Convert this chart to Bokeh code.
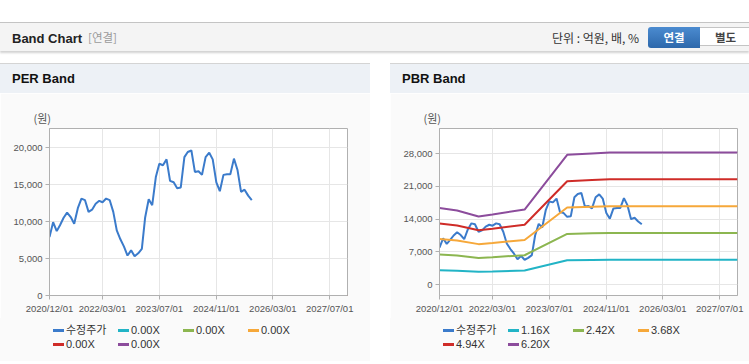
import pandas as pd
from bokeh.plotting import figure
from bokeh.models import (Div, Range1d, FixedTicker, DatetimeTickFormatter,
                          NumeralTickFormatter, Spacer)
from bokeh.layouts import column, row
from bokeh.embed import file_html
from bokeh.resources import INLINE

# ---------------- data ----------------
price_start = "2020-12-01"
price = [7900, 9900, 8700, 9500, 10500, 11200, 10600, 9700, 11800, 13100,
         12900, 11300, 11600, 12400, 12800, 12600, 13100, 12900, 11300, 8800,
         7600, 6600, 5400, 6100, 5300, 5700, 6300, 10500, 13000, 12200,
         16000, 17800, 17600, 18400, 15500, 15300, 14500, 14600, 18700, 19400,
         19600, 16700, 16800, 16300, 18700, 19300, 18400, 15300, 14100, 16300,
         16400, 16400, 18500, 17000, 14000, 14300, 13500, 12900]

price_label = "수정주가"
per_labels = ["0.00X", "0.00X", "0.00X", "0.00X", "0.00X"]
per_multiples = [0.0, 0.0, 0.0, 0.0, 0.0]
pbr_labels = ["1.16X", "2.42X", "3.68X", "4.94X", "6.20X"]
pbr_multiples = [1.16, 2.42, 3.68, 4.94, 6.20]

# per-share base values behind the bands (EPS for PER all zero, BPS for PBR)
band_dates = ["2020-12-01", "2021-05-01", "2021-11-01", "2022-03-01", "2022-12-01",
              "2023-12-01", "2024-07-01", "2024-12-01", "2027-12-01"]
eps_values = [0, 0, 0, 0, 0, 0, 0, 0, 0]
bps_values = [2645, 2560, 2350, 2420, 2590, 4480, 4530, 4560, 4560]

x_tick_dates = ["2020-12-01", "2022-03-01", "2023-07-01", "2024-11-01",
                "2026-03-01", "2027-07-01"]
x_start, x_end = "2020-12-01", "2027-12-01"
per_y_ticks = [0, 5000, 10000, 15000, 20000]
per_y_range = (0, 22570)
pbr_y_ticks = [0, 7000, 14000, 21000, 28000]
pbr_y_range = (-2356, 33420)

price_color = "#3b7bcb"
band_colors = ["#22b4c6", "#8cb650", "#f6a83a", "#cf2c28", "#8c4c9c"]

# ---------------- helpers ----------------
price_dates = pd.date_range(price_start, periods=len(price), freq="MS")
bdates = pd.to_datetime(band_dates)
tick_ms = [int(pd.Timestamp(d).value // 10**6) for d in x_tick_dates]

FONT = "Liberation Sans"
KFONT = "Noto Sans CJK KR"


def legend_div(width, labels, colors):
    html = (f'<div style="position:relative;width:{width}px;height:43px;'
            f'background:#fafafa;font-family:\'{FONT}\',\'{KFONT}\';'
            f'font-size:11px;color:#333;">')
    for i, (lab, col) in enumerate(zip(labels, colors)):
        r, c = divmod(i, 4)
        x = 53 + 65 * c
        yc = 12 + 14 * r
        html += (f'<div style="position:absolute;left:{x}px;top:{yc - 1}px;'
                 f'width:11px;height:3px;background:{col};"></div>'
                 f'<span style="position:absolute;left:{x + 13}px;top:{yc - 6}px;'
                 f'height:12px;line-height:12px;white-space:nowrap;">{lab}</span>')
    html += '</div>'
    return Div(width=width, height=43, margin=0, text=html)


def make_panel(title_text, width, bl, br, yticks, yrange,
               base_vals, multiples, band_width, band_level):
    title_div = Div(
        width=width, height=30, margin=0,
        text=(f'<div style="box-sizing:border-box;width:{width}px;height:30px;'
              f'border-top:1px solid #d4d4d4;background:#edf1f6;'
              f'padding-left:12px;line-height:29px;'
              f'font-family:\'{FONT}\';font-weight:bold;font-size:13px;color:#111;">'
              f'{title_text}</div>'))

    p = figure(width=width, height=225, x_axis_type="datetime",
               output_backend="svg", toolbar_location=None,
               x_range=Range1d(pd.Timestamp(x_start), pd.Timestamp(x_end)),
               y_range=Range1d(*yrange),
               min_border_left=bl, min_border_right=br,
               min_border_top=35, min_border_bottom=23, margin=0)
    p.title.text = "(원)"
    p.title.text_font = KFONT
    p.title.text_font_size = "11px"
    p.title.text_font_style = "normal"
    p.title.text_color = "#555555"
    p.title.offset = -16
    p.title.standoff = 5
    p.background_fill_color = "#ffffff"
    p.border_fill_color = "#fafafa"
    p.outline_line_color = "#b0b0b0"

    for ax in (p.xaxis[0], p.yaxis[0]):
        ax.axis_line_color = "#b0b0b0"
        ax.major_tick_line_color = "#b0b0b0"
        ax.major_tick_out = 4
        ax.major_tick_in = 0
        ax.minor_tick_line_color = None
        ax.major_label_text_font = FONT
        ax.major_label_text_font_size = "9.5px"
        ax.major_label_text_color = "#555555"
        ax.major_label_standoff = 3
    p.xaxis.ticker = FixedTicker(ticks=tick_ms)
    p.xaxis.formatter = DatetimeTickFormatter(
        days="%Y/%m/%d", months="%Y/%m/%d", years="%Y/%m/%d")
    p.yaxis.ticker = FixedTicker(ticks=yticks)
    p.yaxis.formatter = NumeralTickFormatter(format="0,0")
    p.xgrid.ticker = FixedTicker(ticks=tick_ms)
    p.ygrid.ticker = FixedTicker(ticks=yticks)
    p.xgrid.grid_line_color = "#e6e6e6"
    p.ygrid.grid_line_color = "#e6e6e6"

    p.line(price_dates, price, line_color=price_color, line_width=2)
    for m, col in zip(multiples, band_colors):
        vals = [b * m for b in base_vals]
        p.line(bdates, vals, line_color=col, line_width=band_width,
               level=band_level)

    bottom = Div(width=width, height=2, margin=0,
                 text=f'<div style="width:{width}px;height:2px;background:#d9d9d9"></div>')
    return p, title_div, bottom


per_p, per_title, per_bottom = make_panel("PER Band", 370, 49, 23, per_y_ticks,
                                          per_y_range, eps_values, per_multiples,
                                          1, "underlay")
pbr_p, pbr_title, pbr_bottom = make_panel("PBR Band", 359, 49, 12, pbr_y_ticks,
                                          pbr_y_range, bps_values, pbr_multiples,
                                          2, "glyph")
per_leg = legend_div(370, [price_label] + per_labels, [price_color] + band_colors)
pbr_leg = legend_div(359, [price_label] + pbr_labels, [price_color] + band_colors)

per_panel = column(per_title, per_p, per_leg, per_bottom, spacing=0)
pbr_panel = column(pbr_title, pbr_p, pbr_leg, pbr_bottom, spacing=0)

header = Div(width=749, height=31, margin=0, text=(
    '<div style="position:relative;width:749px;height:29px;background:#f4f4f4;'
    'border-top:1px solid #c4c4c4;box-shadow:0 2px 2px rgba(0,0,0,0.18);">'
    f'<span style="position:absolute;left:12px;top:7px;font-family:\'{FONT}\';'
    'font-weight:bold;font-size:13px;color:#222;">Band Chart</span>'
    f'<span style="position:absolute;left:88px;top:6px;font-family:\'{KFONT}\';'
    'font-size:11.5px;color:#9a9a9a;">[연결]</span>'
    f'<span style="position:absolute;left:552px;top:6px;font-family:\'{KFONT}\';'
    'font-size:12px;color:#333;">단위 : 억원, 배, %</span>'
    '<div style="position:absolute;left:648px;top:4px;width:52px;height:21px;'
    'background:linear-gradient(#4b8bd0,#2d68ab);border-radius:3px 0 0 3px;'
    f'color:#fff;font-family:\'{KFONT}\';font-weight:bold;font-size:11.5px;'
    'text-align:center;line-height:21px;">연결</div>'
    '<div style="position:absolute;left:700px;top:4px;width:52px;height:19px;'
    'background:#fff;border:1px solid #c4c4c4;border-left:none;'
    f'color:#444;font-family:\'{KFONT}\';font-weight:bold;font-size:11.5px;'
    'text-align:center;line-height:19px;">별도</div>'
    '</div>'))

layout = column(Spacer(height=22, width=749, margin=0), header,
                Spacer(height=10, width=749, margin=0),
                row(per_panel, Spacer(width=20, height=300, margin=0), pbr_panel,
                    spacing=0),
                spacing=0)

open("out.html", "w").write(file_html(layout, INLINE))
